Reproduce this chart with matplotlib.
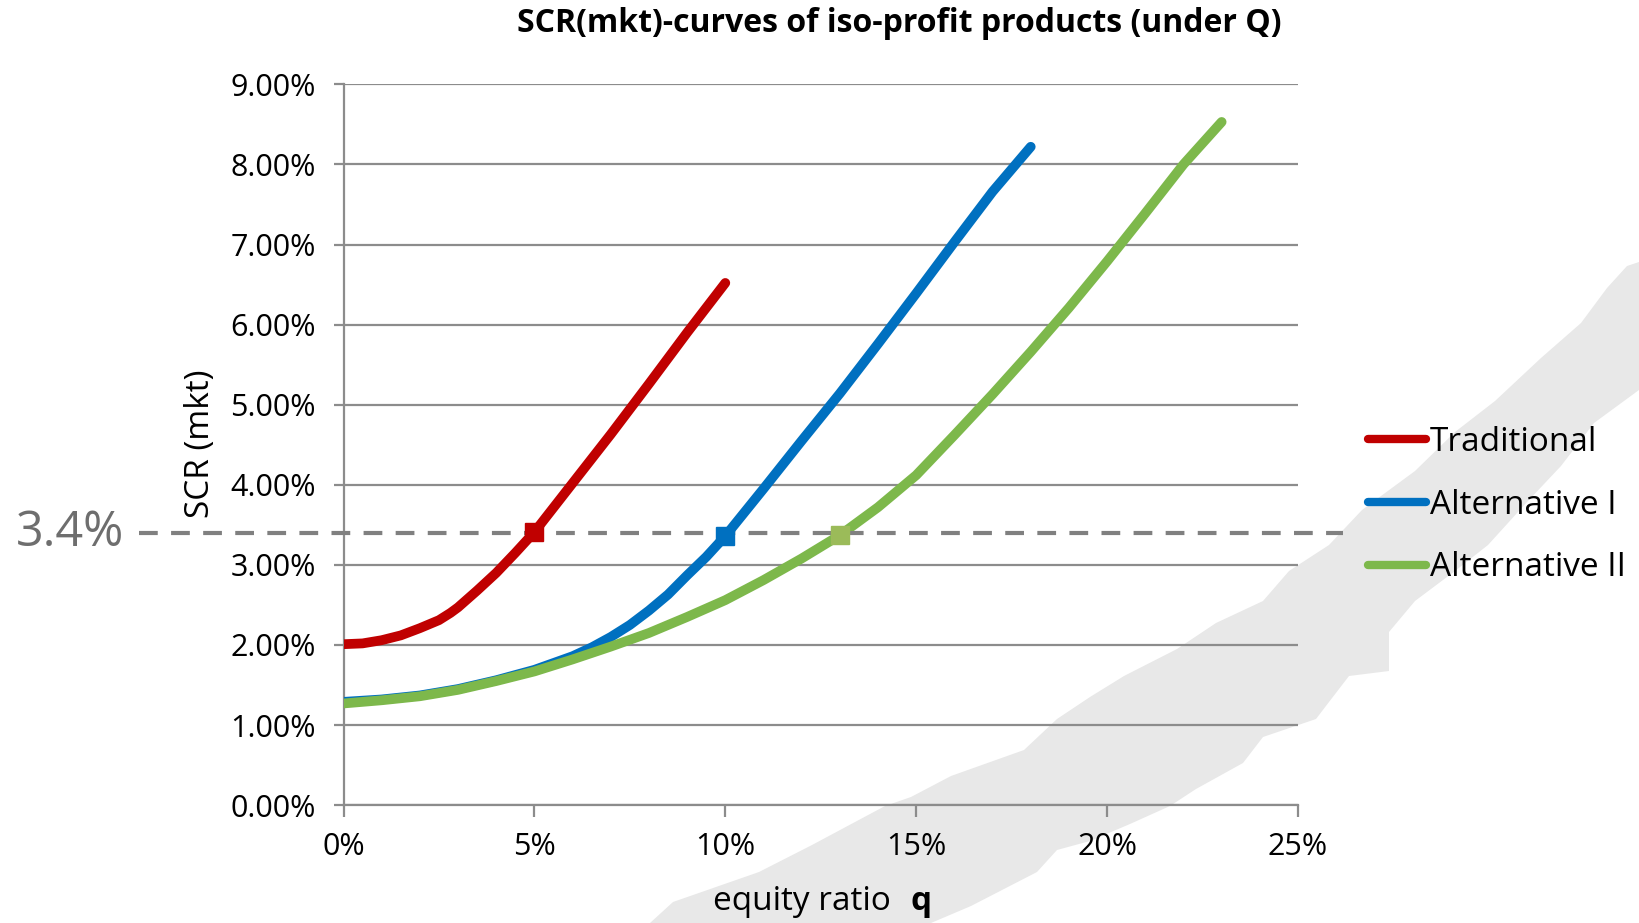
import matplotlib
matplotlib.use("Agg")
import matplotlib.pyplot as plt
from matplotlib.patches import Polygon
from matplotlib.transforms import blended_transform_factory
from matplotlib.ticker import FuncFormatter, MultipleLocator

plt.rcParams['font.family'] = ['Open Sans', 'DejaVu Sans']

# ---- data (equity ratio q in %, SCR(mkt) in %) ----
q_trad = [0, 0.5, 1, 1.5, 2, 2.5, 2.8, 3, 3.5, 4, 4.5, 5, 6, 7, 8, 9, 10]
scr_trad = [2.01, 2.02, 2.06, 2.12, 2.21, 2.31, 2.40, 2.47, 2.68, 2.90, 3.15,
            3.41, 4.02, 4.63, 5.26, 5.90, 6.52]

q_alt1 = [0, 1, 2, 3, 4, 5, 6, 6.5, 7, 7.5, 8, 8.5, 9, 9.5, 10, 11, 12, 13,
          14, 15, 16, 17, 18]
scr_alt1 = [1.29, 1.32, 1.37, 1.45, 1.56, 1.69, 1.86, 1.97, 2.10, 2.25, 2.43,
            2.63, 2.87, 3.10, 3.36, 3.95, 4.55, 5.14, 5.76, 6.39, 7.03, 7.66,
            8.22]

q_alt2 = [0, 1, 2, 3, 4, 5, 6, 7, 8, 9, 10, 11, 12, 13, 14, 15, 16, 17, 18,
          19, 20, 21, 22, 23]
scr_alt2 = [1.27, 1.31, 1.36, 1.44, 1.55, 1.67, 1.82, 1.98, 2.15, 2.35, 2.56,
            2.81, 3.08, 3.37, 3.72, 4.12, 4.62, 5.13, 5.66, 6.21, 6.79, 7.39,
            8.00, 8.53]

marker_q = [5, 10, 13]
marker_scr = [3.41, 3.36, 3.37]

threshold = 3.4
series_names = ["Traditional", "Alternative I", "Alternative II"]
line_colors = ["#C00000", "#0070C0", "#7DB84B"]
marker_colors = ["#C00000", "#0070C0", "#9BBB59"]

title = "SCR(mkt)-curves of iso-profit products (under Q)"

W, H = 1639, 923
fig = plt.figure(figsize=(W / 100, H / 100), dpi=100)

# decorative grey watermark band (figure pixel coords)
band = [(650, 923), (673, 902), (759, 872), (812, 845), (885, 806),
        (911, 797), (951, 776), (1024, 750), (1057, 719), (1090, 697),
        (1124, 676), (1177, 649), (1216, 623), (1263, 601), (1289, 571),
        (1329, 545), (1362, 510), (1415, 471), (1455, 432), (1495, 401),
        (1541, 358), (1581, 323), (1607, 288), (1627, 266), (1639, 262),
        (1639, 390), (1594, 423), (1561, 466), (1528, 501), (1488, 545),
        (1455, 571), (1415, 601), (1389, 632), (1389, 671), (1349, 676),
        (1329, 702), (1316, 719), (1263, 737), (1243, 763), (1196, 789),
        (1170, 806), (1130, 824), (1090, 841), (1057, 850), (1037, 872),
        (1004, 889), (971, 906), (931, 923)]
poly = Polygon([(x / W, 1 - y / H) for x, y in band], closed=True,
               transform=fig.transFigure, facecolor="#E8E8E8",
               edgecolor="none", zorder=0)
fig.patches.append(poly)

x0, x1 = 343.5, 1298
y0, y1 = 805.2, 84.3
ax = fig.add_axes([x0 / W, 1 - y0 / H, (x1 - x0) / W, (y0 - y1) / H])
ax.set_facecolor("none")
ax.set_zorder(1)

ax.set_xlim(0, 25)
ax.set_ylim(0, 9)
ax.xaxis.set_major_locator(MultipleLocator(5))
ax.yaxis.set_major_locator(MultipleLocator(1))
ax.xaxis.set_major_formatter(FuncFormatter(lambda v, p: f"{v:.0f}%"))
ax.yaxis.set_major_formatter(FuncFormatter(lambda v, p: f"{v:.2f}%"))

ax.grid(axis="y", color="#8C8C8C", linewidth=1.6, zorder=1)
for s in ["top", "right"]:
    ax.spines[s].set_visible(False)
for s in ["left", "bottom"]:
    ax.spines[s].set_color("#8C8C8C")
    ax.spines[s].set_linewidth(1.6)
ax.tick_params(axis="y", length=7, width=1.6, color="#8C8C8C", pad=13,
               labelsize=22, labelcolor="black")
ax.tick_params(axis="x", length=8.5, width=1.6, color="#8C8C8C", pad=11,
               labelsize=22, labelcolor="black")

handles = []
for qs, vs, c, name in zip([q_trad, q_alt1, q_alt2],
                           [scr_trad, scr_alt1, scr_alt2],
                           line_colors, series_names):
    h, = ax.plot(qs, vs, color=c, linewidth=7, solid_capstyle="round",
                 solid_joinstyle="round", label=name, zorder=3)
    handles.append(h)

# dashed threshold line extending beyond the axes
tr = blended_transform_factory(fig.transFigure, ax.transData)
ax.plot([139 / W, 1343 / W], [threshold, threshold], transform=tr,
        color="#808080", linewidth=3, linestyle=(0, (4.5, 3.2)),
        clip_on=False, zorder=4)
ax.text(16 / W, threshold, f"{threshold:g}%", transform=tr, ha="left",
        va="center", fontsize=35, color="#6E6E6E")

for q, v, c in zip(marker_q, marker_scr, marker_colors):
    ax.plot([q], [v], marker="s", markersize=13, color=c, linestyle="none",
            zorder=5)

leg = fig.legend(handles=handles, loc="center left",
                 bbox_to_anchor=(1368 / W, 1 - 505 / H), frameon=False,
                 fontsize=24, handlelength=1.75, handletextpad=0.1,
                 labelspacing=0.9, borderaxespad=0, borderpad=0)
for lh in leg.get_lines():
    lh.set_linewidth(6)
    lh.set_solid_capstyle("round")

fig.text(899 / W, 1 - 23 / H, title, ha="center", va="center",
         fontsize=23, fontweight="bold")

fig.text(200 / W, 1 - 444 / H, "SCR (mkt)", rotation=90, ha="center",
         va="center", fontsize=24)
fig.text(891 / W, 1 - 901 / H, "equity ratio", ha="right", va="center",
         fontsize=24)
fig.text(911 / W, 1 - 901 / H, "q", ha="left", va="center", fontsize=24,
         fontweight="bold")

fig.savefig("out.png", dpi=100)
